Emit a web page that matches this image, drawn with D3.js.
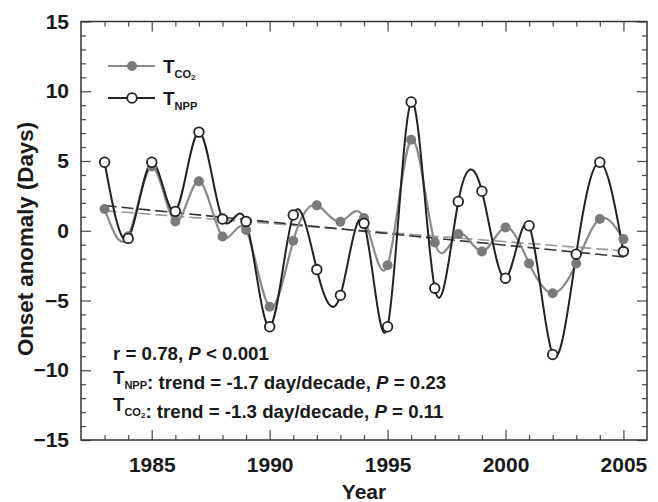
<!DOCTYPE html>
<html>
<head>
<meta charset="utf-8">
<script src="https://cdn.jsdelivr.net/npm/d3@7/dist/d3.min.js"></script>
<style>
  body { margin: 0; background: #fff; }
  svg { font-family: "Liberation Sans", Arial, sans-serif; font-weight: bold; }
  .tick text { font-size: 21px; fill: #1a1a1a; }
  .frame path.domain { stroke: none; }
</style>
</head>
<body>
<svg id="chart" width="658" height="502"></svg>
<script>
// onset anomaly (days) per year
var years = [1983, 1984, 1985, 1986, 1987, 1988, 1989, 1990, 1991, 1992, 1993, 1994,
             1995, 1996, 1997, 1998, 1999, 2000, 2001, 2002, 2003, 2004, 2005];
var tCO2 = [1.56, -0.4, 4.6, 0.67, 3.55, -0.41, 0.05, -5.45, -0.72, 1.82, 0.65, 0.91,
            -2.47, 6.52, -0.84, -0.24, -1.49, 0.24, -2.35, -4.48, -2.35, 0.84, -0.6];
var tNPP = [4.91, -0.55, 4.91, 1.39, 7.07, 0.84, 0.67, -6.88, 1.13, -2.78, -4.63, 0.53,
            -6.88, 9.23, -4.12, 2.1, 2.83, -3.4, 0.36, -8.87, -1.68, 4.91, -1.49];
// trend lines, end values at 1983 and 2005
var trendYears = [1983, 2005];
var trendNPP = [1.8, -1.87];
var trendCO2 = [1.44, -1.44];

var xMajor = [1985, 1990, 1995, 2000, 2005];
var yMajor = [-15, -10, -5, 0, 5, 10, 15];

var svg = d3.select("#chart");
var pLeft = 81, pRight = 647, pTop = 21.5, pBottom = 440;

var x = d3.scaleLinear().domain([1982, 2006]).range([pLeft, pRight]);
var y = d3.scaleLinear().domain([-15, 15]).range([pBottom, pTop]);

var xMinor = d3.range(1983, 2006).filter(function(d) { return xMajor.indexOf(d) < 0; });
var yMinor = d3.range(-14, 15).filter(function(d) { return yMajor.indexOf(d) < 0; });

// ticks, inward on all four sides
function ticks(axis, tr, vals, size, labels, pad) {
  var g = svg.append("g").attr("class", "frame").attr("transform", tr)
    .call(axis.tickValues(vals).tickSize(-size).tickPadding(pad || 0)
      .tickFormat(labels ? d3.format("d") : ""));
  g.selectAll("line").attr("stroke", "#555").attr("stroke-width", 1.3);
  return g;
}
ticks(d3.axisBottom(x), "translate(0," + pBottom + ")", xMinor, 5);
ticks(d3.axisBottom(x), "translate(0," + pBottom + ")", xMajor, 10, true, 17.5);
ticks(d3.axisTop(x), "translate(0," + pTop + ")", xMinor, 5);
ticks(d3.axisTop(x), "translate(0," + pTop + ")", xMajor, 10);
ticks(d3.axisLeft(y), "translate(" + pLeft + ",0)", yMinor, 5);
ticks(d3.axisLeft(y), "translate(" + pLeft + ",0)", yMajor, 10, true, 12);
ticks(d3.axisRight(y), "translate(" + pRight + ",0)", yMinor, 5);
ticks(d3.axisRight(y), "translate(" + pRight + ",0)", yMajor, 10);

svg.append("rect")
    .attr("x", pLeft).attr("y", pTop)
    .attr("width", pRight - pLeft).attr("height", pBottom - pTop)
    .attr("fill", "none").attr("stroke", "#333").attr("stroke-width", 1.5);

// axis titles
svg.append("text")
    .attr("x", 364).attr("y", 499)
    .attr("text-anchor", "middle")
    .attr("font-size", 21).attr("fill", "#1a1a1a")
    .text("Year");
svg.append("text")
    .attr("transform", "translate(33,239) rotate(-90)")
    .attr("text-anchor", "middle")
    .attr("font-size", 22.3).attr("fill", "#1a1a1a")
    .text("Onset anomaly (Days)");

// trend lines
var trendLine = d3.line()
    .x(function(d, i) { return x(trendYears[i]); })
    .y(function(d) { return y(d); });
svg.append("path").datum(trendCO2)
    .attr("d", trendLine).attr("fill", "none")
    .attr("stroke", "#999").attr("stroke-width", 1.6).attr("stroke-dasharray", "12,5");
svg.append("path").datum(trendNPP)
    .attr("d", trendLine).attr("fill", "none")
    .attr("stroke", "#333").attr("stroke-width", 1.6).attr("stroke-dasharray", "12,5");

// smoothed series
var curve = d3.line()
    .x(function(d, i) { return x(years[i]); })
    .y(function(d) { return y(d); })
    .curve(d3.curveNatural);

svg.append("path").datum(tCO2)
    .attr("d", curve).attr("fill", "none")
    .attr("stroke", "#8a8a8a").attr("stroke-width", 2.2);
svg.append("path").datum(tNPP)
    .attr("d", curve).attr("fill", "none")
    .attr("stroke", "#222").attr("stroke-width", 2);

svg.append("g").selectAll("circle")
  .data(tCO2)
  .enter().append("circle")
    .attr("cx", function(d, i) { return x(years[i]); })
    .attr("cy", function(d) { return y(d); })
    .attr("r", 5)
    .attr("fill", "#7a7a7a");

svg.append("g").selectAll("circle")
  .data(tNPP)
  .enter().append("circle")
    .attr("cx", function(d, i) { return x(years[i]); })
    .attr("cy", function(d) { return y(d); })
    .attr("r", 4.8)
    .attr("fill", "#fff").attr("stroke", "#222").attr("stroke-width", 1.8);

// legend
var leg = svg.append("g");
leg.append("line").attr("x1", 108).attr("x2", 155).attr("y1", 66).attr("y2", 66)
    .attr("stroke", "#8a8a8a").attr("stroke-width", 2.2);
leg.append("circle").attr("cx", 132).attr("cy", 66).attr("r", 5).attr("fill", "#7a7a7a");
leg.append("line").attr("x1", 108).attr("x2", 155).attr("y1", 98).attr("y2", 98)
    .attr("stroke", "#222").attr("stroke-width", 2);
leg.append("circle").attr("cx", 132).attr("cy", 98).attr("r", 4.8)
    .attr("fill", "#fff").attr("stroke", "#222").attr("stroke-width", 1.8);

function tLabel(sel, sub, sub2) {
  sel.append("tspan").text("T");
  sel.append("tspan").attr("font-size", 11).attr("dy", 5).text(sub);
  if (sub2) {
    sel.append("tspan").attr("font-size", 8).attr("dy", 2).text(sub2);
    sel.append("tspan").attr("dy", -7).text("");
  } else {
    sel.append("tspan").attr("dy", -5).text("");
  }
}
var l1 = leg.append("text").attr("x", 163).attr("y", 73).attr("font-size", 19).attr("fill", "#1a1a1a");
tLabel(l1, "CO", "2");
var l2 = leg.append("text").attr("x", 163).attr("y", 105).attr("font-size", 19).attr("fill", "#1a1a1a");
tLabel(l2, "NPP");

// statistics annotation
var a1 = svg.append("text").attr("x", 113).attr("y", 360).attr("font-size", 18.7).attr("fill", "#1a1a1a");
a1.append("tspan").text("r = 0.78, ");
a1.append("tspan").attr("font-style", "italic").text("P");
a1.append("tspan").text(" < 0.001");

var a2 = svg.append("text").attr("x", 113).attr("y", 384).attr("font-size", 18.7).attr("fill", "#1a1a1a");
tLabel(a2, "NPP");
a2.append("tspan").text(": trend = -1.7 day/decade, ");
a2.append("tspan").attr("font-style", "italic").text("P");
a2.append("tspan").text(" = 0.23");

var a3 = svg.append("text").attr("x", 113).attr("y", 411).attr("font-size", 18.7).attr("fill", "#1a1a1a");
tLabel(a3, "CO", "2");
a3.append("tspan").text(": trend = -1.3 day/decade, ");
a3.append("tspan").attr("font-style", "italic").text("P");
a3.append("tspan").text(" = 0.11");
</script>
</body>
</html>
